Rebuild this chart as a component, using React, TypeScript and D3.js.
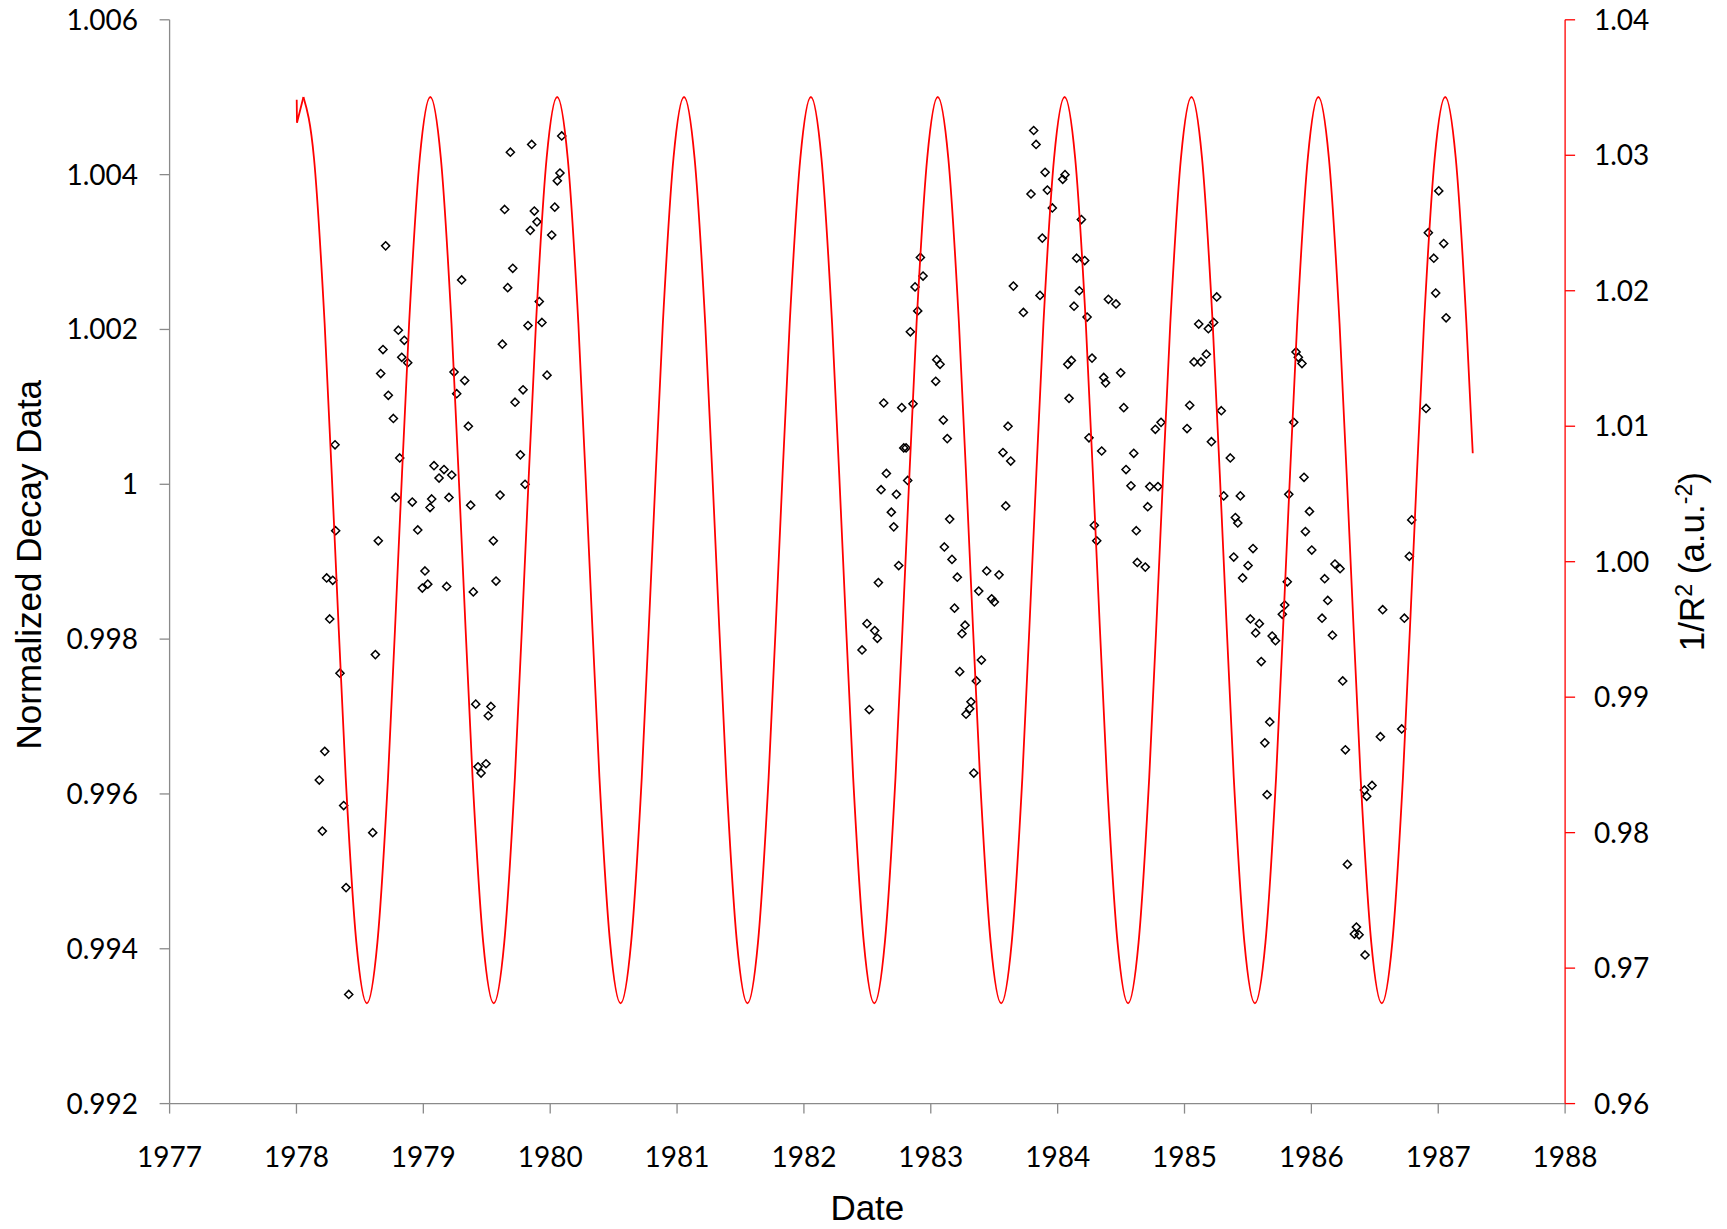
import React from "react";
import * as d3 from "d3";

// ---------- data ----------
const xTicks = [1977, 1978, 1979, 1980, 1981, 1982, 1983, 1984, 1985, 1986, 1987, 1988];
const leftTicks = [0.992, 0.994, 0.996, 0.998, 1.0, 1.002, 1.004, 1.006];
const leftTickLabels = ["0.992", "0.994", "0.996", "0.998", "1", "1.002", "1.004", "1.006"];
const rightTicks = [0.96, 0.97, 0.98, 0.99, 1.0, 1.01, 1.02, 1.03, 1.04];
const rightTickLabels = ["0.96", "0.97", "0.98", "0.99", "1.00", "1.01", "1.02", "1.03", "1.04"];

const decayDates = [
  1978.180, 1978.204, 1978.223, 1978.238, 1978.286, 1978.262, 1978.304, 1978.309, 1978.343, 1978.372, 1978.391, 1978.412,
  1978.601, 1978.622, 1978.645, 1978.664, 1978.682, 1978.703, 1978.724, 1978.764, 1978.782, 1978.803, 1978.814, 1978.830,
  1978.850, 1978.877, 1978.913, 1978.956, 1978.992, 1979.013, 1979.035,
  1979.053, 1979.066, 1979.084, 1979.124, 1979.163, 1979.184, 1979.202, 1979.224, 1979.242, 1979.263, 1979.302, 1979.326,
  1979.355, 1979.373, 1979.394, 1979.413, 1979.431, 1979.455, 1979.494, 1979.512, 1979.533, 1979.552, 1979.573, 1979.605,
  1979.623, 1979.641, 1979.665, 1979.686, 1979.705, 1979.723, 1979.765, 1979.786, 1979.802, 1979.825, 1979.843, 1979.854,
  1979.875, 1979.896, 1979.914, 1979.935, 1979.975, 1980.012, 1980.036, 1980.056, 1980.077, 1980.091,
  1982.458, 1982.497, 1982.515, 1982.558, 1982.579, 1982.587, 1982.608, 1982.629, 1982.650, 1982.689, 1982.708, 1982.729,
  1982.747, 1982.771, 1982.787, 1982.805, 1982.818, 1982.839, 1982.860, 1982.876, 1982.897, 1982.918, 1982.939,
  1983.039, 1983.047, 1983.073, 1983.099, 1983.107, 1983.130, 1983.149, 1983.167, 1983.187, 1983.209, 1983.228, 1983.246,
  1983.270, 1983.278, 1983.307, 1983.317, 1983.339, 1983.359, 1983.378, 1983.399, 1983.441, 1983.480, 1983.501, 1983.538,
  1983.569, 1983.591, 1983.609, 1983.630, 1983.651, 1983.730, 1983.790, 1983.811, 1983.830, 1983.861, 1983.879, 1983.901,
  1983.919, 1983.958, 1984.040, 1984.058,
  1984.080, 1984.090, 1984.108, 1984.129, 1984.150, 1984.171, 1984.187, 1984.213, 1984.232, 1984.247, 1984.271, 1984.289,
  1984.308, 1984.347, 1984.363, 1984.378, 1984.400, 1984.460, 1984.497, 1984.521, 1984.539, 1984.578, 1984.600, 1984.620,
  1984.628, 1984.691, 1984.710, 1984.726, 1984.770, 1984.791, 1984.815,
  1985.020, 1985.041, 1985.075, 1985.112, 1985.130, 1985.172, 1985.188, 1985.212, 1985.230, 1985.254, 1985.290, 1985.309,
  1985.361, 1985.388, 1985.401, 1985.420, 1985.440, 1985.458, 1985.501, 1985.519, 1985.540, 1985.561, 1985.590, 1985.605,
  1985.633, 1985.651, 1985.672, 1985.691, 1985.717, 1985.771, 1985.790, 1985.810, 1985.822, 1985.861, 1985.879, 1985.897,
  1985.926, 1985.942, 1985.953, 1985.985, 1986.003,
  1986.084, 1986.105, 1986.129, 1986.166, 1986.186, 1986.226, 1986.247, 1986.268, 1986.284, 1986.339, 1986.355, 1986.376,
  1986.418, 1986.423, 1986.436, 1986.478, 1986.544, 1986.562, 1986.712, 1986.733, 1986.772, 1986.791, 1986.904, 1986.922,
  1986.965, 1986.980, 1987.004, 1987.043, 1987.062,
];

const decayValues = [
  0.99618, 0.99552, 0.99655, 0.99879, 0.99876, 0.99826, 1.00051, 0.99940, 0.99756, 0.99585, 0.99479, 0.99341,
  0.99550, 0.99780, 0.99927, 1.00143, 1.00174, 1.00308, 1.00115, 1.00085, 0.99983, 1.00199, 1.00034, 1.00164,
  1.00186, 1.00157, 0.99977, 0.99941, 0.99866, 0.99888, 0.99871,
  0.99970, 0.99981, 1.00024, 1.00008, 1.00019, 0.99868, 0.99983, 1.00012, 1.00145, 1.00117, 1.00264, 1.00134,
  1.00075, 0.99973, 0.99861, 0.99716, 0.99635, 0.99627, 0.99639, 0.99701, 0.99713, 0.99927, 0.99875, 0.99986,
  1.00181, 1.00355, 1.00254, 1.00429, 1.00279, 1.00106, 1.00038, 1.00122, 1.00000, 1.00205, 1.00328, 1.00439,
  1.00353, 1.00339, 1.00236, 1.00209, 1.00141, 1.00322, 1.00358, 1.00392, 1.00402, 1.00450,
  0.99786, 0.99820, 0.99709, 0.99811, 0.99801, 0.99873, 0.99993, 1.00105, 1.00014, 0.99964, 0.99945, 0.99987,
  0.99895, 1.00099, 1.00047, 1.00047, 1.00005, 1.00197, 1.00104, 1.00255, 1.00224, 1.00293, 1.00269,
  1.00133, 1.00161, 1.00155, 1.00083, 0.99919, 1.00059, 0.99955, 0.99903, 0.99840, 0.99880, 0.99758, 0.99807,
  0.99818, 0.99703, 0.99710, 0.99719, 0.99627, 0.99746, 0.99862, 0.99773, 0.99888, 0.99852, 0.99848, 0.99883,
  1.00041, 0.99972, 1.00075, 1.00030, 1.00256, 1.00222, 1.00375, 1.00457, 1.00439, 1.00244, 1.00318, 1.00403,
  1.00380, 1.00357, 1.00394, 1.00400,
  1.00155, 1.00111, 1.00160, 1.00230, 1.00292, 1.00250, 1.00342, 1.00289, 1.00216, 1.00060, 1.00163, 0.99947,
  0.99927, 1.00043, 1.00138, 1.00131, 1.00239, 1.00233, 1.00144, 1.00099, 1.00019, 0.99998, 1.00040, 0.99940,
  0.99899, 0.99893, 0.99971, 0.99997, 1.00071, 0.99997, 1.00080,
  1.00072, 1.00102, 1.00158, 1.00207, 1.00158, 1.00168, 1.00201, 1.00055, 1.00209, 1.00242, 1.00095, 0.99985,
  1.00034, 0.99906, 0.99957, 0.99950, 0.99985, 0.99879, 0.99895, 0.99826, 0.99917, 0.99808, 0.99820, 0.99771,
  0.99666, 0.99599, 0.99693, 0.99804, 0.99798, 0.99832, 0.99844, 0.99874, 0.99987, 1.00080, 1.00171, 1.00164,
  1.00156, 1.00009, 0.99939, 0.99965, 0.99915,
  0.99827, 0.99878, 0.99850, 0.99805, 0.99897, 0.99891, 0.99746, 0.99657, 0.99509, 0.99419, 0.99428, 0.99418,
  0.99605, 0.99392, 0.99597, 0.99611, 0.99674, 0.99838, 0.99684, 0.99827, 0.99907, 0.99954, 1.00098, 1.00325,
  1.00292, 1.00247, 1.00379, 1.00311, 1.00215,
];

const invR2Dates = [
  1978.002, 1978.004,
  1978.055, 1978.138, 1978.222, 1978.305, 1978.388, 1978.472, 1978.555, 1978.638, 1978.722, 1978.805, 1978.888, 1978.972,
  1979.055, 1979.138, 1979.222, 1979.305, 1979.388, 1979.472, 1979.555, 1979.638, 1979.722, 1979.805, 1979.888, 1979.972,
  1980.055, 1980.138, 1980.222, 1980.305, 1980.388, 1980.472, 1980.555, 1980.638, 1980.722, 1980.805, 1980.888, 1980.972,
  1981.055, 1981.138, 1981.222, 1981.305, 1981.388, 1981.472, 1981.555, 1981.638, 1981.722, 1981.805, 1981.888, 1981.972,
  1982.055, 1982.138, 1982.222, 1982.305, 1982.388, 1982.472, 1982.555, 1982.638, 1982.722, 1982.805, 1982.888, 1982.972,
  1983.055, 1983.138, 1983.222, 1983.305, 1983.388, 1983.472, 1983.555, 1983.638, 1983.722, 1983.805, 1983.888, 1983.972,
  1984.055, 1984.138, 1984.222, 1984.305, 1984.388, 1984.472, 1984.555, 1984.638, 1984.722, 1984.805, 1984.888, 1984.972,
  1985.055, 1985.138, 1985.222, 1985.305, 1985.388, 1985.472, 1985.555, 1985.638, 1985.722, 1985.805, 1985.888, 1985.972,
  1986.055, 1986.138, 1986.222, 1986.305, 1986.388, 1986.472, 1986.555, 1986.638, 1986.722, 1986.805, 1986.888, 1986.972,
  1987.055, 1987.138, 1987.222, 1987.272,
];

const invR2Values = [
  1.0341, 1.0324,
  1.0343, 1.0298, 1.0176, 1.0009, 0.9841, 0.9719, 0.9674, 0.9719, 0.9841, 1.0009, 1.0176, 1.0298,
  1.0343, 1.0298, 1.0176, 1.0009, 0.9841, 0.9719, 0.9674, 0.9719, 0.9841, 1.0009, 1.0176, 1.0298,
  1.0343, 1.0298, 1.0176, 1.0009, 0.9841, 0.9719, 0.9674, 0.9719, 0.9841, 1.0009, 1.0176, 1.0298,
  1.0343, 1.0298, 1.0176, 1.0009, 0.9841, 0.9719, 0.9674, 0.9719, 0.9841, 1.0009, 1.0176, 1.0298,
  1.0343, 1.0298, 1.0176, 1.0009, 0.9841, 0.9719, 0.9674, 0.9719, 0.9841, 1.0009, 1.0176, 1.0298,
  1.0343, 1.0298, 1.0176, 1.0009, 0.9841, 0.9719, 0.9674, 0.9719, 0.9841, 1.0009, 1.0176, 1.0298,
  1.0343, 1.0298, 1.0176, 1.0009, 0.9841, 0.9719, 0.9674, 0.9719, 0.9841, 1.0009, 1.0176, 1.0298,
  1.0343, 1.0298, 1.0176, 1.0009, 0.9841, 0.9719, 0.9674, 0.9719, 0.9841, 1.0009, 1.0176, 1.0298,
  1.0343, 1.0298, 1.0176, 1.0009, 0.9841, 0.9719, 0.9674, 0.9719, 0.9841, 1.0009, 1.0176, 1.0298,
  1.0343, 1.0298, 1.0176, 1.0080,
];

// ---------- layout ----------
const W = 1727;
const H = 1229;
const PLOT = { left: 169.6, right: 1565.1, top: 19.8, bottom: 1103.6 };
const AXIS_GRAY = "#8a8a8a";
const TICK_FONT = "Lato, 'Open Sans', sans-serif";
const TITLE_FONT = "'Liberation Sans', Arial, sans-serif";

export default function App() {
  const x = d3.scaleLinear().domain([1977, 1988]).range([PLOT.left, PLOT.right]);
  const yL = d3.scaleLinear().domain([0.992, 1.006]).range([PLOT.bottom, PLOT.top]);
  const yR = d3.scaleLinear().domain([0.96, 1.04]).range([PLOT.bottom, PLOT.top]);

  const decay = decayDates.map((d, i) => ({ t: d, v: decayValues[i] }));
  const curvePts = invR2Dates.map((d, i) => ({ t: d, v: invR2Values[i] }));

  const hookLine = d3
    .line<{ t: number; v: number }>()
    .x((d) => x(d.t))
    .y((d) => yR(d.v))
    .curve(d3.curveLinear);
  const mainLine = d3
    .line<{ t: number; v: number }>()
    .x((d) => x(d.t))
    .y((d) => yR(d.v))
    .curve(d3.curveMonotoneX);

  const diamondType = (d3 as any).symbolDiamond2 || d3.symbolDiamond;
  const diamond = d3.symbol().type(diamondType).size(42)() as string;

  return (
    <svg
      width={W}
      height={H}
      style={{ position: "absolute", left: 0, top: 0, background: "#fff" }}
    >
      <rect x={0} y={0} width={W} height={H} fill="#fff" />

      {/* scatter */}
      <g>
        {decay.map((d, i) => (
          <path
            key={i}
            d={diamond}
            transform={`translate(${x(d.t)},${yL(d.v)})`}
            fill="none"
            stroke="#000"
            strokeWidth={1.5}
          />
        ))}
      </g>

      {/* 1/R^2 curve */}
      <path d={hookLine(curvePts.slice(0, 3)) || ""} fill="none" stroke="#ff0000" strokeWidth={1.8} />
      <path d={mainLine(curvePts.slice(2)) || ""} fill="none" stroke="#ff0000" strokeWidth={1.8} />

      {/* left axis */}
      <line x1={PLOT.left} x2={PLOT.left} y1={PLOT.top} y2={PLOT.bottom} stroke={AXIS_GRAY} strokeWidth={1.3} />
      {leftTicks.map((t, i) => (
        <g key={i}>
          <line x1={PLOT.left - 10} x2={PLOT.left} y1={yL(t)} y2={yL(t)} stroke={AXIS_GRAY} strokeWidth={1.3} />
          <text x={138} y={yL(t) + 10} textAnchor="end" fontFamily={TICK_FONT} fontSize={28} fill="#000">
            {leftTickLabels[i]}
          </text>
        </g>
      ))}

      {/* bottom axis */}
      <line x1={PLOT.left} x2={PLOT.right} y1={PLOT.bottom} y2={PLOT.bottom} stroke={AXIS_GRAY} strokeWidth={1.3} />
      {xTicks.map((t, i) => (
        <g key={i}>
          <line x1={x(t)} x2={x(t)} y1={PLOT.bottom} y2={PLOT.bottom + 10} stroke={AXIS_GRAY} strokeWidth={1.3} />
          <text x={x(t)} y={1167} textAnchor="middle" fontFamily={TICK_FONT} fontSize={28} fill="#000">
            {String(t)}
          </text>
        </g>
      ))}

      {/* right axis */}
      <line x1={PLOT.right} x2={PLOT.right} y1={PLOT.top} y2={PLOT.bottom} stroke="#ff0000" strokeWidth={1.3} />
      {rightTicks.map((t, i) => (
        <g key={i}>
          <line x1={PLOT.right} x2={PLOT.right + 10} y1={yR(t)} y2={yR(t)} stroke="#ff0000" strokeWidth={1.3} />
          <text x={1594} y={yR(t) + 10} textAnchor="start" fontFamily={TICK_FONT} fontSize={28} fill="#000">
            {rightTickLabels[i]}
          </text>
        </g>
      ))}

      {/* titles */}
      <text
        transform={`translate(41,${(PLOT.top + PLOT.bottom) / 2 + 3}) rotate(-90)`}
        textAnchor="middle"
        fontFamily={TITLE_FONT}
        fontSize={35}
        fill="#000"
      >
        Normalized Decay Data
      </text>
      <text x={(PLOT.left + PLOT.right) / 2} y={1220} textAnchor="middle" fontFamily={TITLE_FONT} fontSize={35} fill="#000">
        Date
      </text>
      <text
        transform={`translate(1704,${(PLOT.top + PLOT.bottom) / 2}) rotate(-90)`}
        textAnchor="middle"
        fontFamily={TITLE_FONT}
        fontSize={35}
        fill="#000"
      >
        1/R
        <tspan dy={-12} fontSize={23}>2</tspan>
        <tspan dy={12}> (a.u.</tspan>
        <tspan dy={-12} fontSize={23}>-2</tspan>
        <tspan dy={12}>)</tspan>
      </text>
    </svg>
  );
}
